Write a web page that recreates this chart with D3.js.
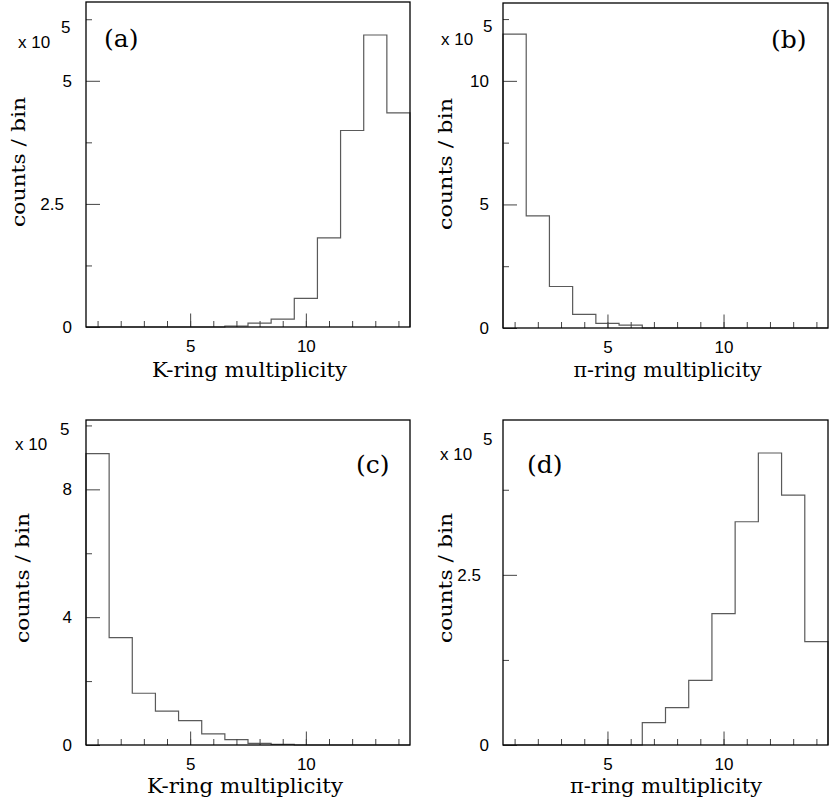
<!DOCTYPE html>
<html><head><meta charset="utf-8">
<script src="https://cdn.jsdelivr.net/npm/d3@7"></script>
<style>body{margin:0;background:#fff} svg{display:block}</style>
</head><body>
<svg id="chart" width="830" height="804"></svg>
<script>
// ---- data (counts per bin, in units of 10^5) ----
const binCenters = [1,2,3,4,5,6,7,8,9,10,11,12,13,14];
const countsA = [0,0,0,0,0,0,0.02,0.08,0.16,0.58,1.81,3.99,5.93,4.35];   // K-ring (a)
const countsB = [11.89,4.54,1.68,0.55,0.19,0.12,0,0,0,0,0,0,0,0];         // pi-ring (b)
const countsC = [9.12,3.36,1.62,1.06,0.76,0.35,0.17,0.05,0.02,0,0,0,0,0]; // K-ring (c)
const countsD = [0,0,0,0,0,0,0.33,0.55,0.95,1.93,3.28,4.29,3.67,1.52];    // pi-ring (d)
const xMajorTicks = [5,10];
const yMajorA = [0,2.5,5],  yMinorA = [1.25,3.75,6.25];
const yMajorB = [0,5,10],   yMinorB = [2.5,7.5,12.5];
const yMajorC = [0,4,8],    yMinorC = [2,6,10];
const yMajorD = [0,2.5],    yMinorD = [1.25,3.75];
const panelLabels = ["(a)","(b)","(c)","(d)"];
const xTitles = ["K-ring multiplicity","\u03c0-ring multiplicity","K-ring multiplicity","\u03c0-ring multiplicity"];
const yTitle = "counts / bin";

// ---- layout ----
const panels = [
  {values:countsA, yMax:6.6,   yMajor:yMajorA, yMinor:yMinorA, L:86,  T:2,   R:410, B:327,
   lab:[104,46.5], xt:[249.5,377,195], yt:[24.5,162,130], ex:[18,48,61,33]},
  {values:countsB, yMax:13.15, yMajor:yMajorB, yMinor:yMinorB, L:503, T:3,   R:828, B:328,
   lab:[771,47.5], xt:[667.5,377,188], yt:[451.5,164,132], ex:[441,45,483,32]},
  {values:countsC, yMax:10.17, yMajor:yMajorC, yMinor:yMinorC, L:86,  T:420, R:410, B:745,
   lab:[356,472.5], xt:[245,793,196], yt:[29,578,130], ex:[15,450,60,435]},
  {values:countsD, yMax:4.775, yMajor:yMajorD, yMinor:yMinorD, L:503, T:420, R:828, B:745,
   lab:[527,473], xt:[666,793,192], yt:[452,578,130], ex:[440,460,483,445]}
];

const svg = d3.select("#chart");
const sans = "'Liberation Sans', Arial, Helvetica, sans-serif";
const serif = "'DejaVu Serif', 'Liberation Serif', serif";

panels.forEach((p, i) => {
  const x = d3.scaleLinear().domain([0.5, 14.5]).range([p.L, p.R]);
  const y = d3.scaleLinear().domain([0, p.yMax]).range([p.B, p.T]);
  const g = svg.append("g");

  // histogram step line
  const path = d3.path();
  path.moveTo(x(0.5), y(0));
  p.values.forEach((v, k) => {
    path.lineTo(x(binCenters[k] - 0.5), y(v));
    path.lineTo(x(binCenters[k] + 0.5), y(v));
  });
  path.lineTo(x(14.5), y(0));
  g.append("path").attr("d", path.toString())
    .attr("fill", "none").attr("stroke", "#5a5a5a").attr("stroke-width", 1.2);

  const styleAxis = sel => {
    sel.select(".domain").remove();
    sel.selectAll(".tick line").attr("stroke", "#444").attr("stroke-width", 1);
    sel.selectAll("text").attr("font-family", sans).attr("font-size", 17).attr("fill", "#000");
  };

  // x axis
  g.append("g").attr("transform", `translate(0,${p.B})`)
    .call(d3.axisBottom(x).tickValues(binCenters).tickSize(-6).tickFormat(""))
    .call(styleAxis);
  g.append("g").attr("transform", `translate(0,${p.B})`)
    .call(d3.axisBottom(x).tickValues(xMajorTicks).tickSize(-13.5).tickPadding(13).tickFormat(d3.format("d")))
    .call(styleAxis);

  // y axis
  g.append("g").attr("transform", `translate(${p.L},0)`)
    .call(d3.axisLeft(y).tickValues(p.yMinor).tickSize(-6).tickFormat(""))
    .call(styleAxis);
  g.append("g").attr("transform", `translate(${p.L},0)`)
    .call(d3.axisLeft(y).tickValues(p.yMajor).tickSize(-14).tickPadding(14).tickFormat(d => String(d)))
    .call(styleAxis)
    .call(sel => sel.selectAll("text").attr("dx", d => Number.isInteger(d) ? 0 : -8));

  // frame
  g.append("rect").attr("x", p.L).attr("y", p.T)
    .attr("width", p.R - p.L).attr("height", p.B - p.T)
    .attr("fill", "none").attr("stroke", "#000").attr("stroke-width", 1.3);

  // exponent label
  g.append("text").attr("x", p.ex[0]).attr("y", p.ex[1])
    .attr("font-family", sans).attr("font-size", 17).text("x 10");
  g.append("text").attr("x", p.ex[2]).attr("y", p.ex[3])
    .attr("font-family", sans).attr("font-size", 17).text("5");

  // panel label
  g.append("text").attr("x", p.lab[0]).attr("y", p.lab[1])
    .attr("font-family", serif).attr("font-size", 25).text(panelLabels[i]);

  // x title
  g.append("text").attr("x", p.xt[0]).attr("y", p.xt[1])
    .attr("text-anchor", "middle").attr("font-family", serif).attr("font-size", 20)
    .attr("textLength", p.xt[2]).attr("lengthAdjust", "spacingAndGlyphs")
    .text(xTitles[i]);

  // y title
  g.append("text").attr("transform", `translate(${p.yt[0]},${p.yt[1]}) rotate(-90)`)
    .attr("text-anchor", "middle").attr("font-family", serif).attr("font-size", 18)
    .attr("textLength", p.yt[2]).attr("lengthAdjust", "spacingAndGlyphs")
    .text(yTitle);
});
</script>
</body></html>
